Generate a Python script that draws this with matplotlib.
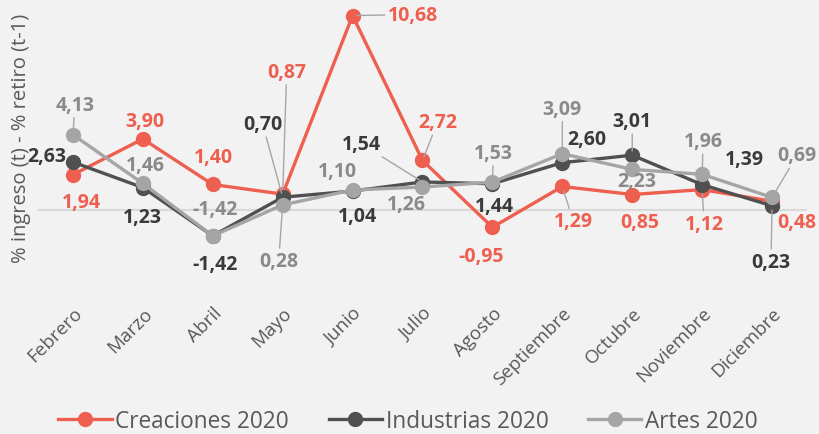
import numpy as np
import matplotlib
matplotlib.use("Agg")
import matplotlib.pyplot as plt

plt.rcParams['font.family'] = ['Open Sans', 'DejaVu Sans']

meses = ["Febrero", "Marzo", "Abril", "Mayo", "Junio", "Julio", "Agosto",
         "Septiembre", "Octubre", "Noviembre", "Diciembre"]
creaciones = [1.94, 3.90, 1.40, 0.87, 10.68, 2.72, -0.95, 1.29, 0.85, 1.12, 0.48]
industrias = [2.63, 1.23, -1.42, 0.70, 1.04, 1.54, 1.44, 2.60, 3.01, 1.39, 0.23]
artes = [4.13, 1.46, -1.42, 0.28, 1.10, 1.26, 1.53, 3.09, 2.23, 1.96, 0.69]

# label offsets in pixels (dx, dy with y going down like the screenshot), leader yes/no
off_cre = [(8, 27, 0), (2, -18, 0), (1, -27, 0), (4, -122, 1), (60, -1, 1), (15, -38, 1),
           (-11, 29, 0), (11, 35, 1), (8, 27, 0), (2, 34, 1), (25, 21, 0)]
off_ind = [(-26, -6, 0), (0, 29, 0), (2, 28, 0), (-20, -73, 1), (5, 25, 0), (-61, -38, 1),
           (2, 22, 0), (25, -24, 0), (0, -34, 1), (42, -26, 0), (-1, 56, 1)]
off_art = [(2, -30, 1), (3, -18, 0), (2, -27, 0), (-4, 56, 1), (-15, -19, 0), (-16, 17, 0),
           (1, -29, 1), (0, -45, 1), (5, 12, 0), (1, -33, 1), (25, -42, 1)]

c_red = "#EF5F4F"
c_dark = "#505050"
c_gray = "#A5A5A5"
bg = "#F2F2F2"

fig = plt.figure(figsize=(8.19, 4.35), dpi=100, facecolor=bg)
ax = fig.add_axes([38/819, (435-302)/435, 769/819, 302/435])
ax.set_facecolor(bg)

x = np.arange(len(meses))
ax.axhline(0, color="#D9D9D9", lw=1.5, zorder=1)

series = [
    ("Creaciones 2020", creaciones, c_red, c_red, off_cre),
    ("Industrias 2020", industrias, c_dark, "#3A3A3A", off_ind),
    ("Artes 2020", artes, c_gray, "#8A8A8A", off_art),
]
for name, vals, col, tcol, offs in series:
    ax.plot(x, vals, color=col, lw=2.4, marker="o", ms=10, label=name, zorder=3)

for name, vals, col, tcol, offs in series:
    for i, v in enumerate(vals):
        dx, dy, lead = offs[i]
        txt = f"{v:.2f}".replace(".", ",")
        kw = {}
        if lead:
            kw["arrowprops"] = dict(arrowstyle="-", color="#A6A6A6", lw=1,
                                    shrinkA=0, shrinkB=3)
        ax.annotate(txt, (x[i], v), xytext=(dx, -dy), textcoords="offset pixels",
                    ha="center", va="center", fontsize=14, fontweight="bold",
                    color=tcol, zorder=5, **kw)

ax.set_xlim(-0.5, len(meses) - 0.5)
ax.set_ylim(-5.0, 11.59)
for s in ax.spines.values():
    s.set_visible(False)
ax.set_yticks([])
ax.set_xticks(x)
ax.set_xticklabels(meses, rotation=45, ha="right", va="top", rotation_mode="anchor",
                   fontsize=13.5, color="#595959")
ax.tick_params(axis="x", length=0, pad=2)

fig.text(21/819, 1 - 138/435, "% ingreso (t) - % retiro (t-1)", rotation=90,
         ha="center", va="center", fontsize=14.5, color="#595959")

leg = ax.legend(loc="center", bbox_to_anchor=(408/819, 1 - 422/435),
                bbox_transform=fig.transFigure, ncol=3, frameon=False,
                fontsize=16.3, handlelength=2.35, handletextpad=0.17,
                columnspacing=1.75, labelcolor="#595959")

fig.savefig("out.png", dpi=100, facecolor=bg)
